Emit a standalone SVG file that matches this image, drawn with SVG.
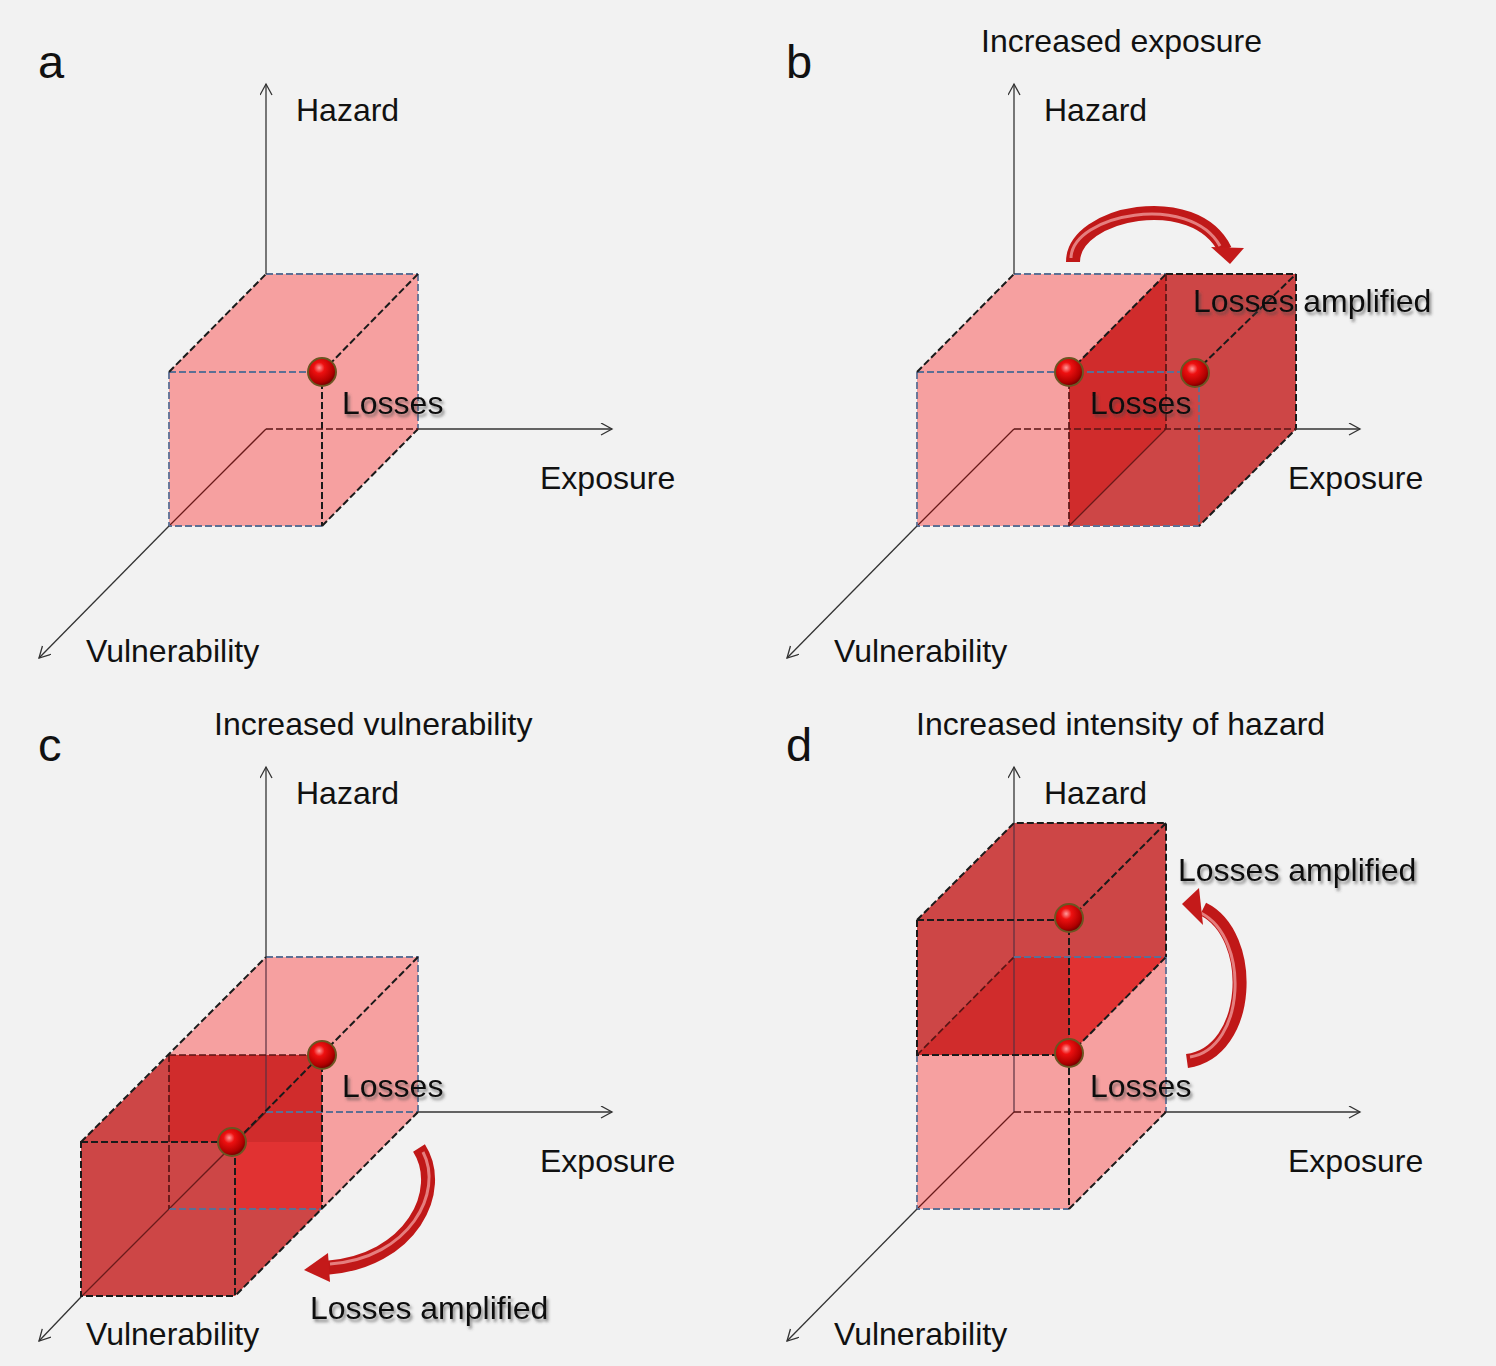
<svg xmlns="http://www.w3.org/2000/svg" width="1496" height="1366" viewBox="0 0 1496 1366">
<defs>
<style>
.bg{fill:#f2f2f2}
.pk{fill:#f6a0a0}
.md{fill:#cd4646}
.dk{fill:#d02c2c}
.br{fill:#e13232}
.ek{stroke:#1a1a1a;stroke-width:2;stroke-dasharray:7 3;fill:none}
.eb{stroke:#5c6f94;stroke-width:1.8;stroke-dasharray:7 3;fill:none}
.er{stroke:#5a1515;stroke-width:1.7;stroke-dasharray:7 3;fill:none}
.ax{stroke:#333;stroke-width:1.3;fill:none;marker-end:url(#ah)}
.axin{stroke:#6a1a1a;stroke-width:1.3;fill:none}
.t{font-family:"Liberation Sans",Arial,sans-serif;font-size:32px;fill:#111}
.lt{font-family:"Liberation Sans",Arial,sans-serif;font-size:47px;fill:#111}
.ls{font-family:"Liberation Sans",Arial,sans-serif;font-size:32px;fill:#111;filter:url(#sh)}
.arb{stroke:#c01818;stroke-width:14;fill:none}
.arh{stroke:#f2a0a0;stroke-width:3;fill:none;opacity:.75}
.hd{fill:#c41a1a}
.sp{fill:url(#sg);stroke:#6b5522;stroke-width:2}
</style>
<marker id="ah" markerWidth="14" markerHeight="14" refX="12" refY="6" orient="auto" markerUnits="userSpaceOnUse">
<path d="M1,0 L12,6 L1,12" fill="none" stroke="#333" stroke-width="1.3"/>
</marker>
<radialGradient id="sg" cx="0.4" cy="0.35" r="0.65">
<stop offset="0" stop-color="#ff9a9a"/>
<stop offset="0.3" stop-color="#ee1010"/>
<stop offset="0.8" stop-color="#b00000"/>
<stop offset="1" stop-color="#700000"/>
</radialGradient>
<filter id="sh" x="-10%" y="-30%" width="130%" height="170%">
<feDropShadow dx="2" dy="3" stdDeviation="1.5" flood-color="#444" flood-opacity="0.6"/>
</filter>
</defs>
<rect class="bg" x="0" y="0" width="1496" height="1366"/>

<!-- Panel a -->
<g id="panel-a">
<text class="lt" x="38" y="78">a</text>
<g id="a-cube">
<polygon class="pk" points="169,372 266,274 418,274 418,429 322,526 169,526"/>
<line class="axin" x1="266" y1="429" x2="169" y2="526"/>
<path class="eb" d="M266,274 H418 M169,372 H322 M169,372 V526 H322 M418,274 V429"/>
<path class="ek" d="M169,372 L266,274 M322,372 L418,274 M322,526 L418,429 M322,372 V526"/>
<path class="er" d="M266,429 H418"/>
<circle class="sp" cx="322" cy="372" r="14"/>
</g>
<text class="ls" x="342" y="414">Losses</text>
</g>

<!-- Panel b -->
<g id="panel-b">
<text class="lt" x="786" y="78">b</text>
<text class="t" x="981" y="52">Increased exposure</text>
<g id="b-cube">
<polygon class="pk" points="917,372 1014,274 1166,274 1166,429 1069,526 917,526"/>
<polygon class="md" points="1069,372 1166,274 1296,274 1296,429 1199,526 1069,526"/>
<polygon class="dk" points="1069,372 1166,274 1166,429 1069,526"/>
<line class="axin" x1="1014" y1="429" x2="917" y2="526"/>
<line class="axin" x1="1069" y1="526" x2="1166" y2="429"/>
<path class="eb" d="M1014,274 H1166 M917,372 H1199 M917,372 V526 H1199 V372"/>
<path class="ek" d="M917,372 L1014,274 M1069,372 L1166,274 M1195,372 L1296,274 M1166,274 H1296 V429 L1199,526"/>
<path class="er" d="M1014,429 H1296 M1069,372 V526 M1166,274 V429"/>
<circle class="sp" cx="1069" cy="372" r="14"/>
<circle class="sp" cx="1195" cy="373" r="14"/>
</g>
<g id="b-arrow">
<path class="arb" d="M1073,262 C1073,212 1195,188 1225,250"/>
<path class="arh" d="M1071,258 C1072,214 1190,192 1220,246"/>
<polygon class="hd" points="1211,247 1244,248 1230,264"/>
</g>
<text class="ls" x="1090" y="414">Losses</text>
<text class="ls" x="1193" y="312">Losses amplified</text>
</g>

<!-- Panel c -->
<g id="panel-c">
<text class="lt" x="38" y="761">c</text>
<text class="t" x="214" y="735">Increased vulnerability</text>
<g id="c-cube">
<polygon class="pk" points="169,1055 266,957 418,957 418,1112 322,1209 169,1209"/>
<polygon class="md" points="81,1142 169,1055 322,1055 322,1209 235,1296 81,1296"/>
<rect class="dk" x="169" y="1055" width="153" height="87"/>
<rect class="br" x="235" y="1142" width="87" height="67"/>
<line class="axin" x1="266" y1="1112" x2="81" y2="1297"/>
<line x1="266" y1="957" x2="266" y2="1112" stroke="#5a3040" stroke-width="1.2"/>
<path class="eb" d="M266,957 H418 V1112 M266,1112 H418 M169,1209 H322"/>
<path class="er" d="M169,1055 V1209 M169,1055 H322"/>
<path class="ek" d="M81,1142 L266,957 M418,957 L235,1142 M418,1112 L235,1296 M81,1142 H235 V1296 H81 Z M322,1055 V1209"/>
<circle class="sp" cx="322" cy="1055" r="14"/>
<circle class="sp" cx="232" cy="1142" r="14"/>
</g>
<g id="c-arrow">
<path class="arb" d="M419,1148 C446,1190 412,1262 325,1268"/>
<path class="arh" d="M423,1152 C444,1192 410,1258 330,1264"/>
<polygon class="hd" points="328,1253 304,1270 330,1282"/>
</g>
<text class="ls" x="342" y="1097">Losses</text>
<text class="ls" x="310" y="1319">Losses amplified</text>
</g>

<!-- Panel d -->
<g id="panel-d">
<text class="lt" x="786" y="761">d</text>
<text class="t" x="916" y="735">Increased intensity of hazard</text>
<g id="d-cube">
<polygon class="pk" points="917,1055 1014,957 1166,957 1166,1112 1069,1209 917,1209"/>
<polygon class="md" points="917,920 1014,823 1166,823 1166,957 1069,1055 917,1055"/>
<polygon class="dk" points="917,1055 1014,957 1069,957 1069,1055"/>
<polygon class="br" points="1069,957 1166,957 1069,1055"/>
<line class="axin" x1="1014" y1="1112" x2="917" y2="1209"/>
<line x1="1014" y1="823" x2="1014" y2="1112" stroke="#5a3040" stroke-width="1.2"/>
<path class="eb" d="M917,1055 V1209 H1069 M1166,957 V1112 M1014,957 H1166"/>
<path class="er" d="M917,1055 L1014,957 M1014,1112 H1166"/>
<path class="ek" d="M917,920 L1014,823 H1166 V957 M1166,823 L1069,920 M917,920 H1069 V1209 M917,920 V1055 H1069 M1069,1055 L1166,957 M1069,1209 L1166,1112"/>
<circle class="sp" cx="1069" cy="918" r="14"/>
<circle class="sp" cx="1069" cy="1053" r="14"/>
</g>
<g id="d-arrow">
<path class="arb" d="M1187,1061 C1252,1052 1256,935 1203,909"/>
<path class="arh" d="M1190,1057 C1246,1048 1250,938 1201,913"/>
<polygon class="hd" points="1199,888 1182,904 1203,925"/>
</g>
<text class="ls" x="1090" y="1097">Losses</text>
<text class="ls" x="1178" y="881">Losses amplified</text>
</g>

<!-- Axes (connectors) -->
<g id="connectors">
<line class="ax" x1="266" y1="274" x2="266" y2="84"/>
<line class="ax" x1="418" y1="429" x2="612" y2="429"/>
<line class="ax" x1="169" y1="526" x2="39" y2="658"/>
<line class="ax" x1="1014" y1="274" x2="1014" y2="84"/>
<line class="ax" x1="1296" y1="429" x2="1360" y2="429"/>
<line class="ax" x1="917" y1="526" x2="787" y2="658"/>
<line class="ax" x1="266" y1="957" x2="266" y2="767"/>
<line class="ax" x1="418" y1="1112" x2="612" y2="1112"/>
<line class="ax" x1="81" y1="1297" x2="39" y2="1341"/>
<line class="ax" x1="1014" y1="823" x2="1014" y2="767"/>
<line class="ax" x1="1166" y1="1112" x2="1360" y2="1112"/>
<line class="ax" x1="917" y1="1209" x2="787" y2="1341"/>
</g>

<!-- Axis labels -->
<g id="labels">
<text class="t" x="296" y="121">Hazard</text>
<text class="t" x="540" y="489">Exposure</text>
<text class="t" x="86" y="662">Vulnerability</text>
<text class="t" x="1044" y="121">Hazard</text>
<text class="t" x="1288" y="489">Exposure</text>
<text class="t" x="834" y="662">Vulnerability</text>
<text class="t" x="296" y="804">Hazard</text>
<text class="t" x="540" y="1172">Exposure</text>
<text class="t" x="86" y="1345">Vulnerability</text>
<text class="t" x="1044" y="804">Hazard</text>
<text class="t" x="1288" y="1172">Exposure</text>
<text class="t" x="834" y="1345">Vulnerability</text>
</g>
</svg>
